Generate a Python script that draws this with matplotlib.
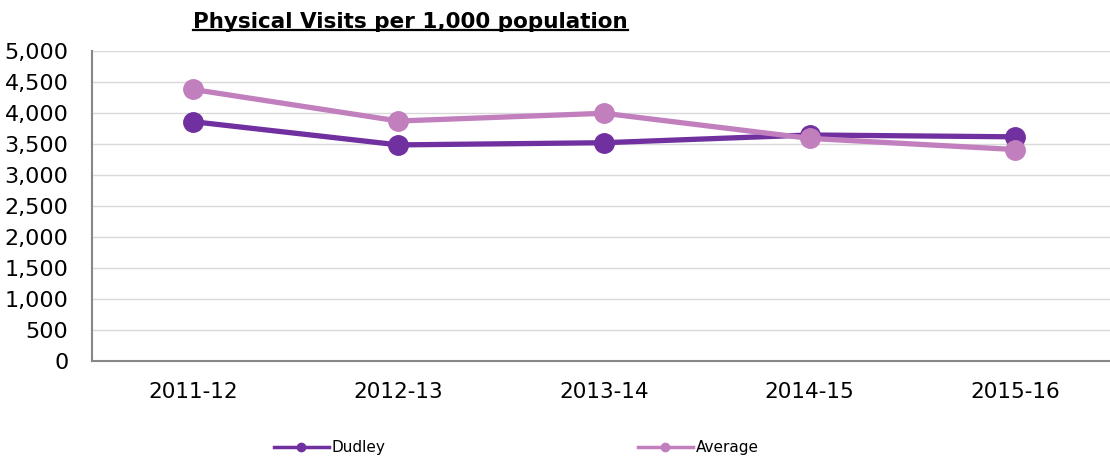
import matplotlib
matplotlib.use("Agg")
import matplotlib.pyplot as plt
from matplotlib.lines import Line2D

# data
tahun = ["2011-12", "2012-13", "2013-14", "2014-15", "2015-16"]
dudley = [3860, 3485, 3520, 3645, 3615]
average = [4380, 3870, 3995, 3590, 3410]
yticks = [0, 500, 1000, 1500, 2000, 2500, 3000, 3500, 4000, 4500, 5000]

warna_dudley = "#7030A0"
warna_avg = "#C27FBE"

plt.rcParams['font.family'] = ['DejaVu Sans']

fig = plt.figure(figsize=(11.1, 4.59), dpi=100)
ax = fig.add_axes([0.0829, 0.2135, 0.9171, 0.6755])

x = list(range(len(tahun)))
ax.plot(x, dudley, color=warna_dudley, lw=3.8, marker="o", ms=14, zorder=3)
ax.plot(x, average, color=warna_avg, lw=3.8, marker="o", ms=14, zorder=4)

ax.set_xlim(-0.49, 4.46)
ax.set_ylim(0, 5000)
ax.set_yticks(yticks)
ax.set_yticklabels(["{:,}".format(v) for v in yticks], fontsize=16)
ax.set_xticks(x)
ax.set_xticklabels(tahun, fontsize=15.5)
ax.tick_params(axis="both", length=0)
ax.tick_params(axis="x", pad=15)
ax.tick_params(axis="y", pad=17)
ax.grid(axis="y", color="#D9D9D9", lw=1)
ax.set_axisbelow(True)

for s in ["top", "right"]:
    ax.spines[s].set_visible(False)
for s in ["left", "bottom"]:
    ax.spines[s].set_color("#878787")
    ax.spines[s].set_linewidth(1.5)

# judul dengan garis bawah
judul = fig.text(193 / 1110, 1 - 22 / 459, "Physical Visits per 1,000 population",
                 fontsize=15.5, fontweight="bold", ha="left", va="center")
fig.canvas.draw()
bb = judul.get_window_extent().transformed(fig.transFigure.inverted())
y_garis = bb.y0 + 0.004
fig.add_artist(Line2D([bb.x0, bb.x1], [y_garis, y_garis], color="black", lw=1.6,
                      transform=fig.transFigure))

# legenda
h1 = Line2D([], [], color=warna_dudley, lw=2.5, marker="o", ms=6)
h2 = Line2D([], [], color=warna_avg, lw=2.5, marker="o", ms=6)
fig.legend([h1, h2], ["Dudley", "Average"], loc="center", bbox_to_anchor=(0.465, 0.025),
           ncol=2, frameon=False, fontsize=11, handlelength=3.6, columnspacing=16.5,
           handletextpad=0.2)

fig.savefig("out.png", dpi=100)
